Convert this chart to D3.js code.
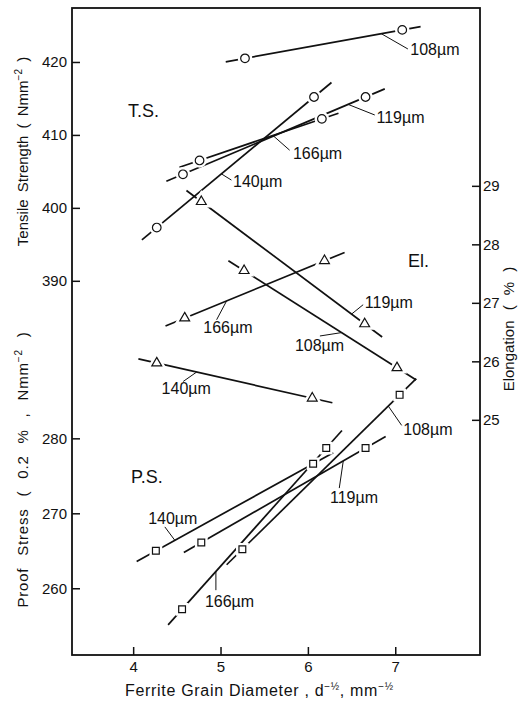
<!DOCTYPE html>
<html lang="en">
<head>
    <meta charset="UTF-8">
    <script src="https://cdn.jsdelivr.net/npm/d3@7"></script>
    <style>
        body { margin: 0; background: #fff; }
        svg text { font-family: "Liberation Sans", Arial, sans-serif; fill: #111; }
    </style>
</head>
<body>
<div id="chart"></div>
<script>
    // TICKS / AXIS RANGES
    const xTicks = [4, 5, 6, 7];
    const tsTicks = [390, 400, 410, 420];
    const psTicks = [260, 270, 280];
    const elTicks = [25, 26, 27, 28, 29];
    const xDomain = [3.3, 7.97];
    const tsDomain = [338.7, 427.4];
    const psDomain = [251.1, 337.4];
    const elDomain = [20.98, 32.04];

    // DATA: two measured points per grain size, plus the x-extent of the fitted line
    // Tensile strength, Nmm-2 (circles)
    const tsData = [
        { size: "108µm", x: [5.28, 7.08], v: [420.5, 424.4], span: [5.06, 7.29] },
        { size: "119µm", x: [4.57, 6.66], v: [404.6, 415.2], span: [4.38, 6.88] },
        { size: "140µm", x: [4.27, 6.07], v: [397.3, 415.2], span: [4.10, 6.27] },
        { size: "166µm", x: [4.76, 6.16], v: [406.5, 412.2], span: [4.53, 6.35] }
    ];
    // Elongation, % (triangles)
    const elData = [
        { size: "108µm", x: [5.27, 7.02], v: [27.55, 25.89], span: [5.09, 7.24] },
        { size: "119µm", x: [4.78, 6.65], v: [28.73, 26.64], span: [4.61, 6.85] },
        { size: "140µm", x: [4.27, 6.05], v: [25.97, 25.37], span: [4.06, 6.28] },
        { size: "166µm", x: [4.59, 6.19], v: [26.74, 27.72], span: [4.37, 6.42] }
    ];
    // 0.2% proof stress, Nmm-2 (squares)
    const psData = [
        { size: "108µm", x: [5.25, 7.05], v: [265.2, 285.8], span: [5.07, 7.24] },
        { size: "119µm", x: [4.78, 6.66], v: [266.1, 278.7], span: [4.58, 6.89] },
        { size: "140µm", x: [4.26, 6.06], v: [265.0, 276.6], span: [4.04, 6.29] },
        { size: "166µm", x: [4.56, 6.21], v: [257.2, 278.7], span: [4.40, 6.39] }
    ];

    // LABEL PLACEMENT: x on the line where the leader starts, leader end and text offset (px)
    const tsLabels = [
        { at: 6.84, lead: [26.6, 15.3], text: [29, 21.5] },
        { at: 6.46, lead: [26.7, 10.6], text: [28.4, 18.3] },
        { at: 5.01, lead: [10, 6.2], text: [11.6, 12.7] },
        { at: 5.60, lead: [16.7, 14.7], text: [20, 23.2] }
    ];
    const elLabels = [
        { at: 6.386, lead: [-21.7, 3.4], text: [-46.7, 18.7] },
        { at: 6.50, lead: [11.6, -9.4], text: [13.3, -6.1] },
        { at: 4.726, lead: [-13.4, 9.4], text: [-35, 22] },
        { at: 5.07, lead: [-10, 18.9], text: [-23.4, 32.2] }
    ];
    const psLabels = [
        { at: 6.92, lead: [13.4, 19.4], text: [15, 29.4] },
        { at: 6.405, lead: [-4, 27.2], text: [-13.3, 42.4] },
        { at: 4.477, lead: [-10, -13.4], text: [-26.7, -16.6] },
        { at: 4.947, lead: [0, 18.7], text: [-11, 35.4] }
    ];

    // FRAME / SCALES
    const WIDTH = 525, HEIGHT = 703;
    const LEFT = 72, RIGHT = 480, TOP = 8, BOTTOM = 655;

    const x = d3.scaleLinear().domain(xDomain).range([LEFT, RIGHT]);
    const yTS = d3.scaleLinear().domain(tsDomain).range([BOTTOM, TOP]);
    const yPS = d3.scaleLinear().domain(psDomain).range([BOTTOM, TOP]);
    const yEL = d3.scaleLinear().domain(elDomain).range([BOTTOM, TOP]);

    const svg = d3.select("#chart").append("svg")
        .attr("width", WIDTH)
        .attr("height", HEIGHT);

    // AXES (ticks point into the frame)
    function styleAxis(g) {
        g.select(".domain").remove();
        g.selectAll("line").attr("stroke", "#111").attr("stroke-width", 1.5);
        g.selectAll("text").attr("font-size", 15).attr("font-family", null).attr("fill", "#111");
    }
    const fmt = d3.format("d");
    svg.append("g").attr("transform", `translate(${LEFT},0)`)
        .call(d3.axisLeft(yTS).tickValues(tsTicks).tickFormat(fmt).tickSize(-8).tickPadding(5)).call(styleAxis);
    svg.append("g").attr("transform", `translate(${LEFT},0)`)
        .call(d3.axisLeft(yPS).tickValues(psTicks).tickFormat(fmt).tickSize(-8).tickPadding(5)).call(styleAxis);
    svg.append("g").attr("transform", `translate(${RIGHT},0)`)
        .call(d3.axisRight(yEL).tickValues(elTicks).tickFormat(fmt).tickSize(-8).tickPadding(3)).call(styleAxis);
    svg.append("g").attr("transform", `translate(0,${BOTTOM})`)
        .call(d3.axisBottom(x).tickValues(xTicks).tickFormat(fmt).tickSize(-8).tickPadding(6)).call(styleAxis);

    svg.append("rect")
        .attr("x", LEFT).attr("y", TOP)
        .attr("width", RIGHT - LEFT).attr("height", BOTTOM - TOP)
        .attr("fill", "none").attr("stroke", "#111").attr("stroke-width", 1.8);

    // AXIS TITLES (with superscripts)
    function richText(sel, parts) {
        parts.forEach(p => {
            sel.append("tspan")
                .attr("dy", p.sup ? -6 : (p.back ? 6 : 0))
                .attr("font-size", p.sup ? 10 : null)
                .text(p.t);
        });
    }
    const tsTitle = svg.append("text")
        .attr("transform", "translate(28,151.5) rotate(-90)")
        .attr("text-anchor", "middle").attr("font-size", 15)
        .style("word-spacing", "3px");
    richText(tsTitle, [{ t: "Tensile Strength ( Nmm" }, { t: "−2", sup: true }, { t: " )", back: true }]);

    const psTitle = svg.append("text")
        .attr("transform", "translate(28,469.5) rotate(-90)")
        .attr("text-anchor", "middle").attr("font-size", 15)
        .style("letter-spacing", "0.8px").style("word-spacing", "7px");
    richText(psTitle, [{ t: "Proof Stress ( 0.2 % , Nmm" }, { t: "−2", sup: true }, { t: " )", back: true }]);

    svg.append("text")
        .attr("transform", "translate(514,329) rotate(-90)")
        .attr("text-anchor", "middle").attr("font-size", 15)
        .style("word-spacing", "6px")
        .text("Elongation ( % )");

    const xTitle = svg.append("text")
        .attr("x", 125).attr("y", 696).attr("font-size", 16)
        .attr("textLength", 268).attr("lengthAdjust", "spacing");
    richText(xTitle, [{ t: "Ferrite Grain Diameter , d" }, { t: "−½", sup: true },
                      { t: ", mm", back: true }, { t: "−½", sup: true }]);

    // GROUP NAMES
    const groups = [["T.S.", 128, 117], ["El.", 408, 267], ["P.S.", 131, 483]];
    svg.selectAll(".grp").data(groups).enter().append("text")
        .attr("class", "grp")
        .attr("x", d => d[1]).attr("y", d => d[2])
        .attr("font-size", 18)
        .text(d => d[0]);

    // SERIES
    function lineY(d, xv) {
        const k = (d.v[1] - d.v[0]) / (d.x[1] - d.x[0]);
        return d.v[0] + k * (xv - d.x[0]);
    }

    function drawSet(data, labels, yScale, symbol, symSize) {
        const g = svg.append("g");
        const sym = d3.symbol().type(symbol).size(symSize);

        data.forEach((d, i) => {
            // fitted line
            g.append("line")
                .attr("x1", x(d.span[0])).attr("y1", yScale(lineY(d, d.span[0])))
                .attr("x2", x(d.span[1])).attr("y2", yScale(lineY(d, d.span[1])))
                .attr("stroke", "#111").attr("stroke-width", 1.7);

            // leader and grain-size label
            const lab = labels[i];
            const px = x(lab.at), py = yScale(lineY(d, lab.at));
            g.append("line")
                .attr("x1", px).attr("y1", py)
                .attr("x2", px + lab.lead[0]).attr("y2", py + lab.lead[1])
                .attr("stroke", "#111").attr("stroke-width", 1);
            g.append("text")
                .attr("x", px + lab.text[0]).attr("y", py + lab.text[1])
                .attr("font-size", 16)
                .text(d.size);
        });

        // markers: white halo breaks the line around each point
        const pts = data.flatMap(d => d.x.map((xv, j) => ({ x: xv, v: d.v[j] })));
        g.selectAll(".halo").data(pts).enter().append("path")
            .attr("transform", p => `translate(${x(p.x)},${yScale(p.v)})`)
            .attr("d", sym)
            .attr("fill", "#fff").attr("stroke", "#fff").attr("stroke-width", 6);
        g.selectAll(".mark").data(pts).enter().append("path")
            .attr("transform", p => `translate(${x(p.x)},${yScale(p.v)})`)
            .attr("d", sym)
            .attr("fill", "#fff").attr("stroke", "#111").attr("stroke-width", 1.2);
    }

    drawSet(tsData, tsLabels, yTS, d3.symbolCircle, 58);
    drawSet(elData, elLabels, yEL, d3.symbolTriangle, 42);
    drawSet(psData, psLabels, yPS, d3.symbolSquare, 46);
</script>
</body>
</html>
